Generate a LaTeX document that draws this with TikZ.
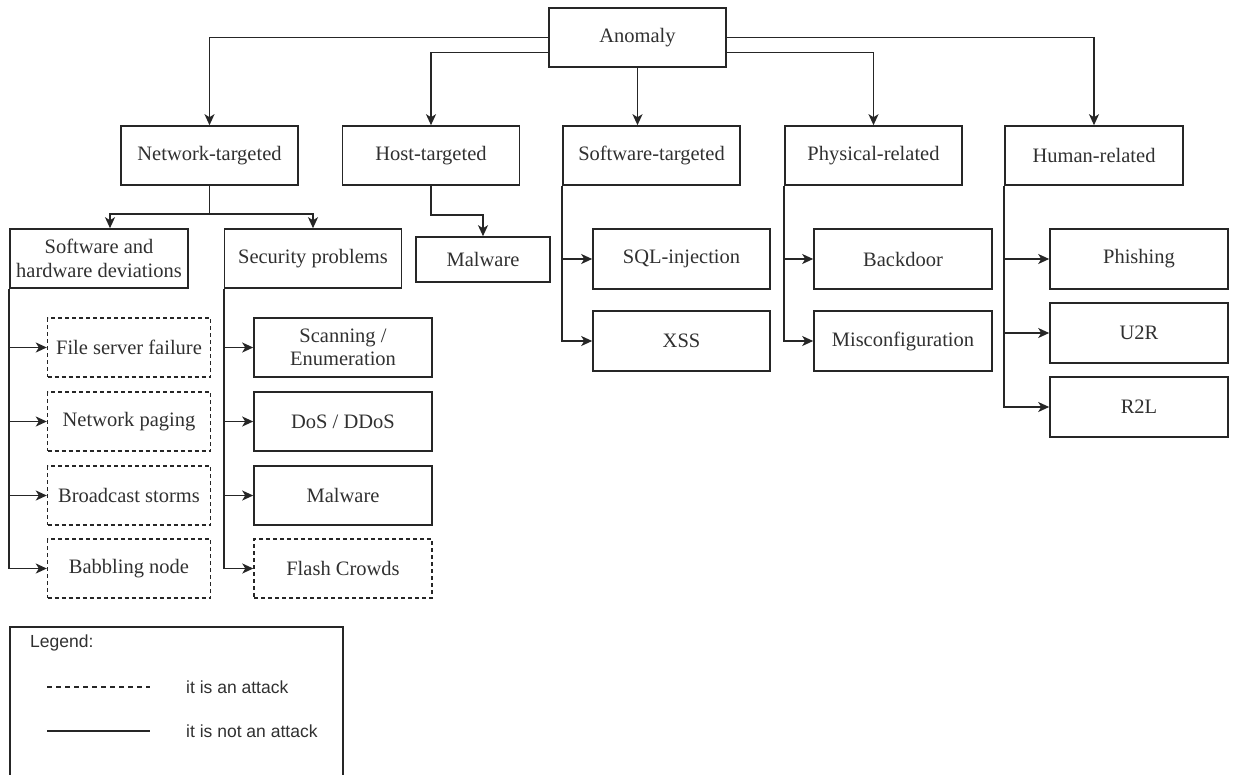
\documentclass[tikz,border=0pt]{standalone}
\usepackage{fontspec}
\setmainfont{Liberation Serif}
\newfontfamily\legendfont{Liberation Sans}
\usetikzlibrary{arrows.meta}
\definecolor{ln}{HTML}{262626}
\definecolor{tx}{HTML}{303030}
\tikzset{
  box/.style={draw=ln, line width=1.6pt, minimum width=177pt, minimum height=59pt, inner sep=0pt, align=center, text=tx,
    font=\fontsize{20.5}{23.5}\selectfont},
  dbox/.style={box, line width=1.4pt, dash pattern=on 4pt off 3pt},
  conn/.style={draw=ln, line width=1.6pt},
  arr/.style={conn, -{Stealth[length=11pt,width=10pt,inset=3pt]}},
  legtext/.style={anchor=west, inner sep=0pt, text=tx, font=\legendfont\fontsize{17.5}{20}\selectfont}
}
\begin{document}
\begin{tikzpicture}[x=1pt,y=-1pt]
\useasboundingbox (0,0) rectangle (1233,774);
% level 1
\node[box] (anom) at (637.5,37.5) {Anomaly};
% level 2
\node[box] (net)   at (209.5,155.5) {Network-targeted};
\node[box] (host)  at (431,155.5)   {Host-targeted};
\node[box] (soft)  at (651.5,155.5) {Software-targeted};
\node[box] (phys)  at (873.5,155.5) {Physical-related};
\node[box, minimum width=178pt] (human) at (1094,155.5) {Human-related};
% network children
\node[box, minimum width=178pt] (swhw) at (99,258.5) {Software and\\hardware deviations};
\node[box] (sec) at (313,258.5) {Security problems};
\node[dbox, minimum width=163pt] (fsf) at (129,347.5) {File server failure};
\node[dbox, minimum width=163pt] (npg) at (129,421.5) {Network paging};
\node[dbox, minimum width=163pt] (bst) at (129,495.5) {Broadcast storms};
\node[dbox, minimum width=163pt] (bab) at (129,568.5) {Babbling node};
\node[box, minimum width=178pt] (scan) at (343,347.5) {Scanning /\\Enumeration};
\node[box, minimum width=178pt] (dos)  at (343,421.5) {DoS / DDoS};
\node[box, minimum width=178pt] (mal2) at (343,495.5) {Malware};
\node[dbox, minimum width=178pt] (flash) at (343,568.5) {Flash Crowds};
% host child
\node[box, minimum width=134pt, minimum height=45pt] (mal1) at (483,259.5) {Malware};
% software children
\node[box, minimum height=60pt] (sql) at (681.5,259) {SQL-injection};
\node[box, minimum height=60pt] (xss) at (681.5,341) {XSS};
% physical children
\node[box, minimum width=178pt, minimum height=60pt] (back) at (903,259) {Backdoor};
\node[box, minimum width=178pt, minimum height=60pt] (misc) at (903,341) {Misconfiguration};
% human children
\node[box, minimum width=178pt, minimum height=60pt] (phish) at (1139,259) {Phishing};
\node[box, minimum width=178pt, minimum height=60pt] (u2r) at (1139,333) {U2R};
\node[box, minimum width=178pt, minimum height=60pt] (r2l) at (1139,407) {R2L};

% connectors from Anomaly
\draw[arr] (anom.west) -| (net.north);
\draw[arr] ([yshift=-15pt]anom.west) -| (host.north);
\draw[arr] (anom.south) -- (anom.south |- soft.north);
\draw[arr] ([yshift=-15pt]anom.east) -| (phys.north);
\draw[arr] (anom.east) -| (human.north);

% network split
\coordinate (nj) at (209.5,214);
\coordinate (nl) at (110,214);
\draw[conn] (net.south) -- (nj);
\draw[arr] (nj) -- (nl) -- (nl |- swhw.north);
\draw[arr] (nj) -| (sec.north);

% host
\draw[arr] (host.south) -- ++(0,29) -| (mal1.north);

% software
\draw[arr] (soft.south west) |- (sql.west);
\draw[arr] (soft.south west) |- (xss.west);
% physical
\draw[arr] (phys.south west) |- (back.west);
\draw[arr] (phys.south west) |- (misc.west);
% human
\draw[arr] (human.south west) |- (phish.west);
\draw[arr] (human.south west) |- (u2r.west);
\draw[arr] (human.south west) |- (r2l.west);
% sw/hw deviations
\draw[arr] (swhw.south west) |- (fsf.west);
\draw[arr] (swhw.south west) |- (npg.west);
\draw[arr] (swhw.south west) |- (bst.west);
\draw[arr] (swhw.south west) |- (bab.west);
% security problems
\draw[arr] (sec.south west) |- (scan.west);
\draw[arr] (sec.south west) |- (dos.west);
\draw[arr] (sec.south west) |- (mal2.west);
\draw[arr] (sec.south west) |- (flash.west);

% legend
\draw[draw=ln, line width=1.3pt] (10,776) -- (10,627) -- (343,627) -- (343,776);
\node[legtext] (leg) at (30,643) {Legend:};
\coordinate (d1) at (47,687);
\coordinate (d2) at (150,687);
\coordinate (s1) at (47,731);
\coordinate (s2) at (150,731);
\draw[draw=ln, line width=1.3pt, dash pattern=on 5pt off 4pt] (d1) -- (d2);
\draw[draw=ln, line width=1.3pt] (s1) -- (s2);
\node[legtext] (l1) at (186,687) {it is an attack};
\node[legtext] (l2) at (186,731) {it is not an attack};
\end{tikzpicture}
\end{document}
